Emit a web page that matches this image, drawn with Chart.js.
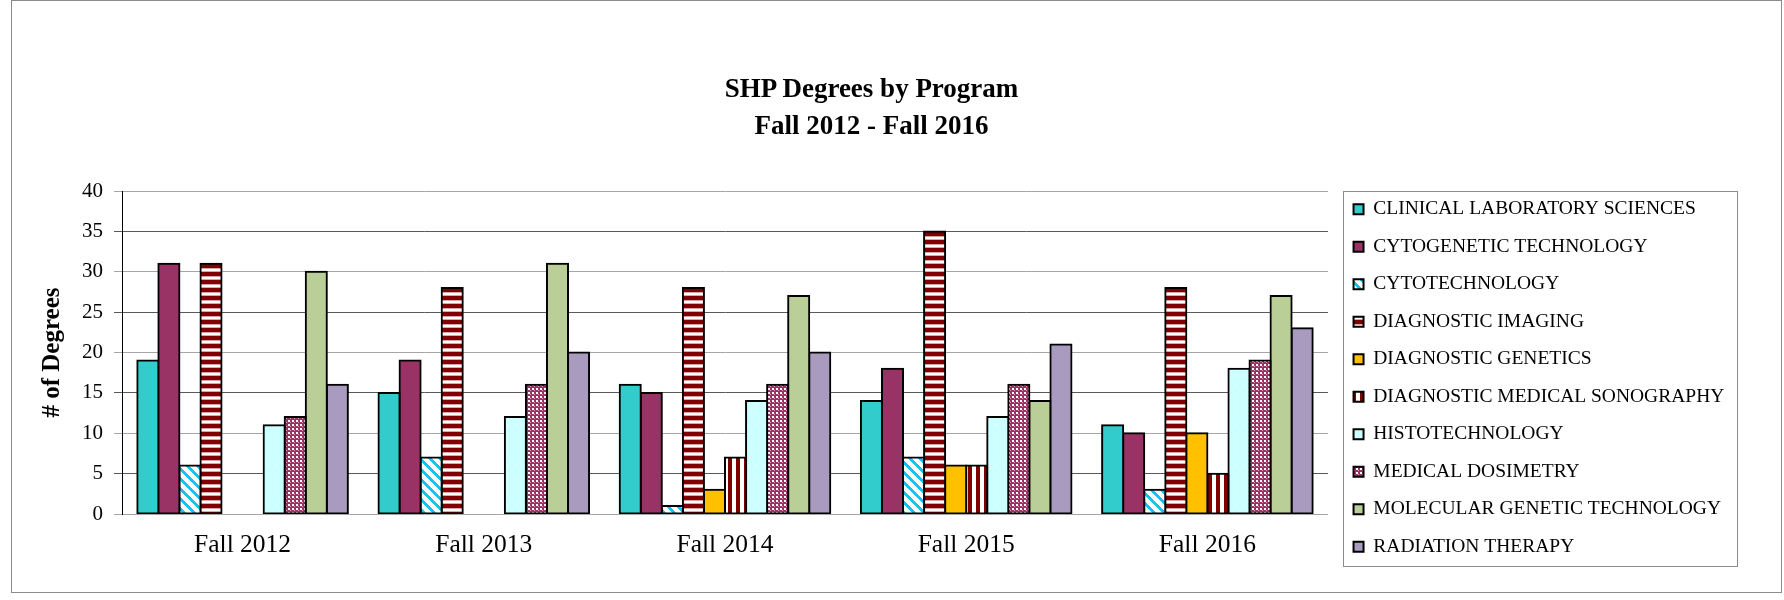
<!DOCTYPE html>
<html>
<head>
<meta charset="utf-8">
<title>SHP Degrees by Program</title>
<script src="https://cdn.jsdelivr.net/npm/chart.js@4.4.1/dist/chart.umd.min.js"></script>
<style>
  html, body { margin: 0; padding: 0; background: #fff; }
  #wrap { position: relative; width: 1784px; height: 600px; }
  #frame { position: absolute; left: 11px; top: 0; width: 1771px; height: 593px; border: 1px solid #8c8c8c; box-sizing: border-box; }
  #chart { position: absolute; left: 0; top: 0; }
  #title { position: absolute; left: 0; width: 1743px; top: 70px; text-align: center;
           font: bold 27px/36.7px "Liberation Serif", "Times New Roman", serif; color: #000; }
</style>
</head>
<body>
<div id="wrap">
  <div id="frame"></div>
  <canvas id="chart" width="1784" height="600"></canvas>
  <div id="title">SHP Degrees by Program<br>Fall 2012 - Fall 2016</div>
</div>
<script>
// categories
const terms = ['Fall 2012', 'Fall 2013', 'Fall 2014', 'Fall 2015', 'Fall 2016'];

// degrees per program (null = no graduates listed that year)
const clinicalLab   = [19, 15, 16, 14, 11];
const cytogenetic   = [31, 19, 15, 18, 10];
const cytotech      = [6, 7, 1, 7, 3];
const diagImaging   = [31, 28, 28, 35, 28];
const diagGenetics  = [null, null, 3, 6, 10];
const sonography    = [null, null, 7, 6, 5];
const histotech     = [11, 12, 14, 12, 18];
const dosimetry     = [12, 16, 16, 16, 19];
const molecular     = [30, 31, 27, 14, 27];
const radiation     = [16, 20, 20, 21, 23];

// y axis
const yMin = 0, yMax = 40, yStep = 5;

const serif = '"Liberation Serif", "Times New Roman", serif';
Chart.defaults.font.family = serif;
Chart.defaults.color = '#000';

// little fill patterns, like the excel ones
function pattern(w, h, paint) {
    const c = document.createElement('canvas');
    c.width = w; c.height = h;
    const g = c.getContext('2d');
    paint(g, w, h);
    return g.createPattern(c, 'repeat');
}

const diagStripes = pattern(10, 10, (g, w, h) => {
    g.fillStyle = '#fff'; g.fillRect(0, 0, w, h);
    g.fillStyle = '#19c3f0';
    for (let x = 0; x < w; x++)
        for (let y = 0; y < h; y++)
            if ((x - y + w) % w < 4) g.fillRect(x, y, 1, 1);
});

const horizStripes = pattern(1, 8, (g) => {
    g.fillStyle = '#fff'; g.fillRect(0, 0, 1, 8);
    g.fillStyle = '#800000'; g.fillRect(0, 0, 1, 4);
    g.fillStyle = '#d9a6a6'; g.fillRect(0, 4, 1, 1); g.fillRect(0, 7, 1, 1);
});

const vertStripes = pattern(8, 1, (g) => {
    g.fillStyle = '#fff'; g.fillRect(0, 0, 8, 1);
    g.fillStyle = '#800000'; g.fillRect(0, 0, 4, 1);
});

const dots = pattern(8, 10, (g) => {
    g.fillStyle = '#ccffff'; g.fillRect(0, 0, 8, 10);
    g.fillStyle = '#fff'; g.fillRect(3, 4, 1, 1);
});

const checker = pattern(4, 4, (g) => {
    g.fillStyle = '#993366'; g.fillRect(0, 0, 4, 4);
    g.fillStyle = '#fff'; g.fillRect(0, 0, 2, 2);
    g.fillStyle = '#d8a8c0'; g.fillRect(2, 2, 1, 1);
});

const legendFont = 19.5;

// legend sits a bit away from the plot, with a grey box round it
const legendFrame = {
    id: 'legendFrame',
    afterLayout(chart) {
        chart.legend.left += 17;
        chart.legend.right += 17;
    },
    afterDraw(chart) {
        const boxes = chart.legend.legendHitBoxes;
        if (!boxes || !boxes.length) return;
        const first = boxes[0], last = boxes[boxes.length - 1];
        const right = Math.max(...boxes.map(b => b.left + b.width));
        const x0 = Math.round(first.left - 10.5) + 0.5;
        const x1 = Math.round(right + 13) + 0.5;
        const y0 = Math.round(first.top + legendFont / 2 - 18.3) + 0.5;
        const y1 = Math.round(last.top + legendFont / 2 + 19.3) + 0.5;
        const ctx = chart.ctx;
        ctx.save();
        ctx.strokeStyle = '#8c8c8c';
        ctx.lineWidth = 1;
        ctx.strokeRect(x0, y0, x1 - x0, y1 - y0);
        ctx.restore();
    }
};

new Chart(document.getElementById('chart'), {
    type: 'bar',
    data: {
        labels: terms,
        datasets: [
            { label: 'CLINICAL LABORATORY SCIENCES', data: clinicalLab, backgroundColor: '#33cccc' },
            { label: 'CYTOGENETIC TECHNOLOGY', data: cytogenetic, backgroundColor: '#993366' },
            { label: 'CYTOTECHNOLOGY', data: cytotech, backgroundColor: diagStripes },
            { label: 'DIAGNOSTIC IMAGING', data: diagImaging, backgroundColor: horizStripes },
            { label: 'DIAGNOSTIC GENETICS', data: diagGenetics, backgroundColor: '#ffc000' },
            { label: 'DIAGNOSTIC MEDICAL SONOGRAPHY', data: sonography, backgroundColor: vertStripes },
            { label: 'HISTOTECHNOLOGY', data: histotech, backgroundColor: dots },
            { label: 'MEDICAL DOSIMETRY', data: dosimetry, backgroundColor: checker },
            { label: 'MOLECULAR GENETIC TECHNOLOGY', data: molecular, backgroundColor: '#bace97' },
            { label: 'RADIATION THERAPY', data: radiation, backgroundColor: '#a99bbf' }
        ]
    },
    options: {
        responsive: false,
        animation: false,
        layout: { padding: { left: 38, right: 66.7, top: 191, bottom: 23.4 } },
        datasets: {
            bar: {
                categoryPercentage: 0.873,
                barPercentage: 1,
                borderColor: '#000',
                borderWidth: 2,
                borderSkipped: false,
                inflateAmount: 1
            }
        },
        scales: {
            x: {
                grid: { display: false, drawTicks: false },
                border: { display: false },
                ticks: { padding: 16, color: '#000', font: { family: serif, size: 25.5 } }
            },
            y: {
                min: yMin,
                max: yMax,
                ticks: { stepSize: yStep, padding: 11, color: '#000', font: { family: serif, size: 21 } },
                grid: { color: (c) => c.index % 2 ? '#595959' : '#a6a6a6', tickLength: 8, lineWidth: 1 },
                border: { color: '#000', width: 1 },
                title: {
                    display: true,
                    text: '# of Degrees',
                    color: '#000',
                    font: { family: serif, size: 25, weight: 'bold' },
                    padding: { top: 0, bottom: 3 }
                }
            }
        },
        plugins: {
            legend: {
                position: 'right',
                align: 'start',
                labels: {
                    boxWidth: 10,
                    boxHeight: 10,
                    padding: 8.55,
                    color: '#000',
                    font: { family: serif, size: legendFont, lineHeight: 1.485 },
                    // one-line arrays so each row takes the font line height
                    generateLabels: (c) => Chart.defaults.plugins.legend.labels.generateLabels(c)
                        .map(item => Object.assign(item, { text: [item.text] }))
                }
            },
            title: { display: false },
            tooltip: { enabled: false }
        }
    },
    plugins: [legendFrame]
});
</script>
</body>
</html>
